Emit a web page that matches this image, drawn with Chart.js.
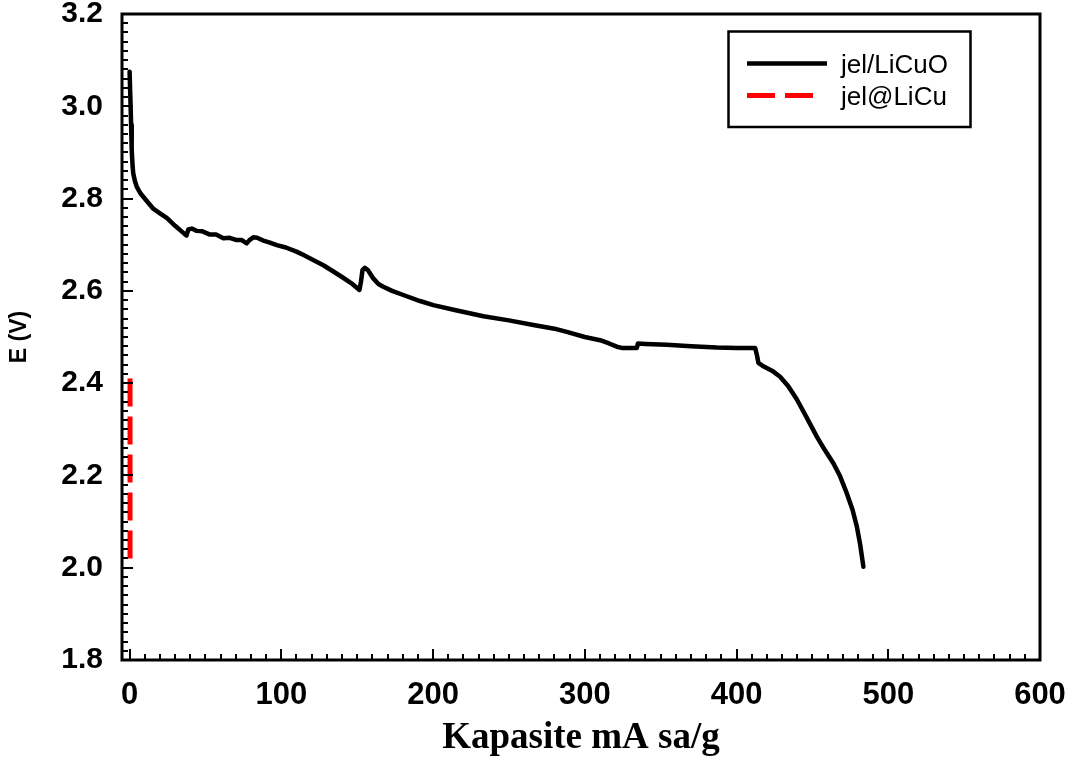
<!DOCTYPE html>
<html>
<head>
<meta charset="utf-8">
<title>Kapasite</title>
<script src="https://cdn.jsdelivr.net/npm/chart.js@4/dist/chart.umd.min.js"></script>
<style>
  html, body { margin: 0; padding: 0; background: #ffffff; }
  canvas { display: block; }
</style>
</head>
<body>
<canvas id="chart" width="1075" height="764"></canvas>
<script>
// Discharge curves: capacity (mAh/g) vs. potential (V)
const seriesNames = ['jel/LiCuO', 'jel@LiCu'];

const licuoCapacity = [
  0.0, 0.5, 1.0, 1.4, 2.0, 2.4, 3.5, 4.7, 7.0, 9.0, 12.0, 15.6, 20.0, 24.5, 30.0,
  36.0, 37.5, 38.7, 41.0, 44.2, 48.0, 53.0, 57.0, 61.8, 66.0, 70.6, 74.0, 77.2,
  79.0, 81.5, 84.0, 88.1, 92.0, 97.0, 103.0, 110.0, 115.0, 121.0, 128.0, 134.3,
  140.0, 146.0, 151.5, 152.5, 153.5, 155.0, 157.0, 160.6, 164.0, 167.2, 173.0,
  180.4, 191.4, 200.2, 215.0, 233.2, 250.0, 266.1, 280.0, 288.1, 300.0, 310.1,
  316.0, 321.1, 325.0, 334.3, 335.0, 340.0, 354.0, 370.0, 387.0, 400.0, 412.3,
  413.5, 414.4, 418.0, 424.3, 428.7, 434.0, 439.7, 446.0, 452.9, 458.0, 463.9,
  468.0, 472.7, 476.5, 479.3, 481.5, 483.6
];
const licuoVoltage = [
  3.075, 3.020, 2.960, 2.905, 2.870, 2.855, 2.838, 2.826, 2.812, 2.804, 2.792, 2.778,
  2.768, 2.758, 2.741, 2.724, 2.720, 2.733, 2.735, 2.730, 2.729, 2.722, 2.722, 2.714,
  2.715, 2.710, 2.710, 2.703, 2.710, 2.716, 2.715, 2.709, 2.705, 2.699, 2.694, 2.685,
  2.677, 2.667, 2.655, 2.642, 2.630, 2.617, 2.602, 2.620, 2.645, 2.650, 2.645, 2.627,
  2.615, 2.609, 2.600, 2.591, 2.578, 2.569, 2.558, 2.545, 2.536, 2.526, 2.518, 2.511,
  2.500, 2.493, 2.486, 2.479, 2.476, 2.476, 2.486, 2.485, 2.483, 2.480, 2.477, 2.476,
  2.476, 2.460, 2.444, 2.436, 2.425, 2.414, 2.394, 2.365, 2.327, 2.284, 2.256, 2.226,
  2.200, 2.161, 2.125, 2.089, 2.050, 2.002
];

const licuCapacity = [0.3, 0.3];
const licuVoltage = [2.41, 2.02];

const xTickValues = [0, 100, 200, 300, 400, 500, 600];
const yTickValues = [1.8, 2.0, 2.2, 2.4, 2.6, 2.8, 3.0, 3.2];
const xMinorStep = 10;
const yMinorStep = 0.02;

const toPoints = (xs, ys) => xs.map((v, i) => ({ x: v, y: ys[i] }));

// Inward tick marks, plot frame and the boxed legend
const framePlugin = {
  id: 'frame',
  afterDraw(chart) {
    const { ctx, chartArea: a, scales } = chart;
    const xs = scales.x, ys = scales.y;
    ctx.save();
    ctx.strokeStyle = '#000';
    ctx.lineCap = 'butt';
    ctx.lineWidth = 2;

    const xMin = xTickValues[0], xMax = xTickValues[xTickValues.length - 1];
    for (let v = xMin; v <= xMax + 1e-9; v += xMinorStep) {
      const major = xTickValues.some(t => Math.abs(t - v) < 1e-6);
      const px = Math.round(xs.getPixelForValue(v));
      ctx.beginPath();
      ctx.moveTo(px, a.bottom);
      ctx.lineTo(px, a.bottom - (major ? 11 : 6));
      ctx.stroke();
    }
    const yMin = yTickValues[0], yMax = yTickValues[yTickValues.length - 1];
    const nY = Math.round((yMax - yMin) / yMinorStep);
    for (let i = 0; i <= nY; i++) {
      const v = yMin + i * yMinorStep;
      const major = yTickValues.some(t => Math.abs(t - v) < 1e-6);
      const py = Math.round(ys.getPixelForValue(v));
      ctx.beginPath();
      ctx.moveTo(a.left, py);
      ctx.lineTo(a.left + (major ? 11 : 6), py);
      ctx.stroke();
    }

    ctx.lineWidth = 3;
    ctx.strokeRect(a.left, a.top, a.right - a.left, a.bottom - a.top);

    // legend
    const lx = 728.5, ly = 31.5, lw = 242, lh = 95.5;
    ctx.fillStyle = '#fff';
    ctx.fillRect(lx, ly, lw, lh);
    ctx.lineWidth = 2.5;
    ctx.strokeRect(lx, ly, lw, lh);

    const ds = chart.data.datasets;
    const rows = [63.5, 95.5];
    const sampleEnds = [827, 815];
    ds.forEach((d, i) => {
      ctx.save();
      ctx.strokeStyle = d.borderColor;
      ctx.lineWidth = d.borderWidth;
      ctx.setLineDash(d.borderDash || []);
      ctx.beginPath();
      ctx.moveTo(747, rows[i]);
      ctx.lineTo(sampleEnds[i], rows[i]);
      ctx.stroke();
      ctx.restore();
      ctx.fillStyle = '#000';
      ctx.font = '26px "Liberation Sans", Arial, sans-serif';
      ctx.textBaseline = 'alphabetic';
      ctx.textAlign = 'left';
      ctx.fillText(d.label, 841, rows[i] + 9);
    });
    ctx.restore();
  }
};

const tickFont = size => ({ family: '"Liberation Sans", Arial, sans-serif', weight: 'bold', size, lineHeight: 1 });

// keep the plot area fixed: no extra room reserved for overhanging labels
const clearPadding = s => { s.paddingTop = 0; s.paddingBottom = 0; s.paddingLeft = 0; s.paddingRight = 0; };

new Chart(document.getElementById('chart'), {
  type: 'scatter',
  data: {
    datasets: [
      {
        label: seriesNames[0],
        data: toPoints(licuoCapacity, licuoVoltage),
        showLine: true,
        borderColor: '#000000',
        borderWidth: 4.5,
        pointRadius: 0,
        borderJoinStyle: 'round',
        borderCapStyle: 'round',
        tension: 0
      },
      {
        label: seriesNames[1],
        data: toPoints(licuCapacity, licuVoltage),
        showLine: true,
        borderColor: '#ff0000',
        borderWidth: 5,
        borderDash: [28, 10],
        pointRadius: 0,
        tension: 0
      }
    ]
  },
  options: {
    responsive: false,
    animation: false,
    devicePixelRatio: 1,
    layout: { padding: { left: 0, top: 14, right: 35, bottom: 0 } },
    plugins: {
      legend: { display: false },
      tooltip: { enabled: false }
    },
    scales: {
      x: {
        type: 'linear',
        min: -5,
        max: 600,
        afterBuildTicks: s => { s.ticks = xTickValues.map(v => ({ value: v })); },
        afterFit: s => { s.height = 104; clearPadding(s); },
        grid: { display: false, drawTicks: false },
        border: { display: false },
        ticks: { font: tickFont(31), color: '#000', padding: 19.5, autoSkip: false, maxRotation: 0 },
        title: {
          display: true,
          text: 'Kapasite mA sa/g',
          color: '#000',
          font: { family: '"Liberation Serif", "Times New Roman", serif', weight: 'bold', size: 37 },
          padding: { top: 0, bottom: 3 }
        }
      },
      y: {
        type: 'linear',
        min: 1.8,
        max: 3.2,
        afterBuildTicks: s => { s.ticks = yTickValues.map(v => ({ value: v })); },
        afterFit: s => { s.width = 122; clearPadding(s); },
        grid: { display: false, drawTicks: false },
        border: { display: false },
        ticks: { font: tickFont(30), color: '#000', padding: 19, autoSkip: false, callback: v => v.toFixed(1) },
        title: {
          display: true,
          text: 'E (V)',
          color: '#000',
          font: { family: '"Liberation Sans", Arial, sans-serif', weight: 'bold', size: 23 },
          padding: { top: 6, bottom: 0 }
        }
      }
    }
  },
  plugins: [framePlugin]
});
</script>
</body>
</html>
